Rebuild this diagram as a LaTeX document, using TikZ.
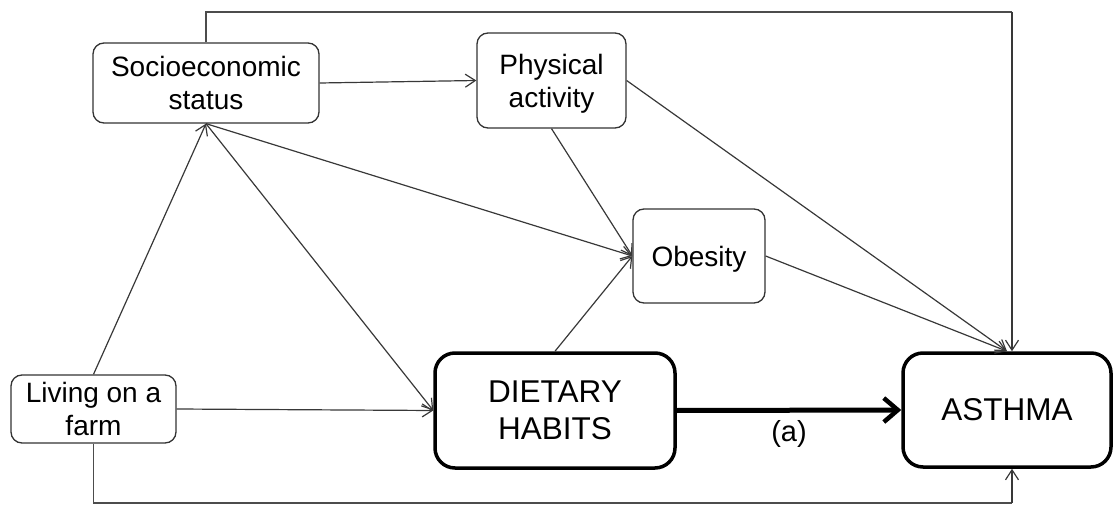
\documentclass[tikz,border=0pt]{standalone}
\usepackage{fontspec}
\setmainfont{Liberation Sans}
\usetikzlibrary{arrows.meta}
\begin{document}
\begin{tikzpicture}[x=1pt,y=-1pt,
  thinbox/.style={draw=black!80,line width=1.3pt,rounded corners=11pt,fill=white,inner sep=0pt,align=center,text depth=0pt,font=\fontsize{28}{33}\selectfont},
  thickbox/.style={draw=black,line width=3.5pt,rounded corners=20pt,fill=white,inner sep=0pt,align=center,text depth=0pt,font=\fontsize{31.5}{37}\selectfont},
  link/.style={draw=black!78,line width=1.2pt,-{Straight Barb[length=10pt,width=13pt,line width=1.2pt]}},
  plain/.style={draw=black!70,line width=1.4pt},
  mainlink/.style={draw=black,line width=5pt,-{Straight Barb[length=14pt,width=24pt,line width=4.5pt]}}
]
\useasboundingbox (0,0) rectangle (1114,505);
\node[thinbox,minimum width=226pt,minimum height=80pt] (socio) at (206,83) {Socioeconomic\\status};
\node[thinbox,minimum width=149pt,minimum height=95pt] (phys) at (551.5,80.5) {Physical\\activity};
\node[thinbox,minimum width=132pt,minimum height=94pt] (obes) at (699,256) {Obesity};
\node[thinbox,minimum width=165pt,minimum height=68pt] (farm) at (93.5,409) {Living on a\\farm};
\node[thickbox,minimum width=240pt,minimum height=115pt] (diet) at (555,410.5) {DIETARY\\HABITS};
\node[thickbox,minimum width=208pt,minimum height=114pt] (asthma) at (1007,410) {ASTHMA};
\coordinate (tr) at (1012,12);
\coordinate (br) at (1012,503);
\draw[link] (socio.east) -- (phys.west);
\draw[link] (socio.south) -- (obes.west);
\draw[link] (socio.south) -- (diet.west);
\draw[link] (farm.north) -- (socio.south);
\draw[link] (farm.east) -- (diet.west);
\draw[link] (phys.south) -- (obes.west);
\draw[link] (diet.north) -- (obes.west);
\draw[link] (phys.east) -- (asthma.north);
\draw[link] (obes.east) -- (asthma.north);
\draw[plain] (socio.north) |- (tr);
\draw[link] (tr) -- (tr |- asthma.north);
\draw[plain] (farm.south) |- (br);
\draw[link] (br) -- (br |- asthma.south);
\draw[mainlink] (diet.east) -- node[below=4pt,font=\fontsize{29}{33}\selectfont,text=black] (lbl) {(a)} (asthma.west);
\end{tikzpicture}
\end{document}
